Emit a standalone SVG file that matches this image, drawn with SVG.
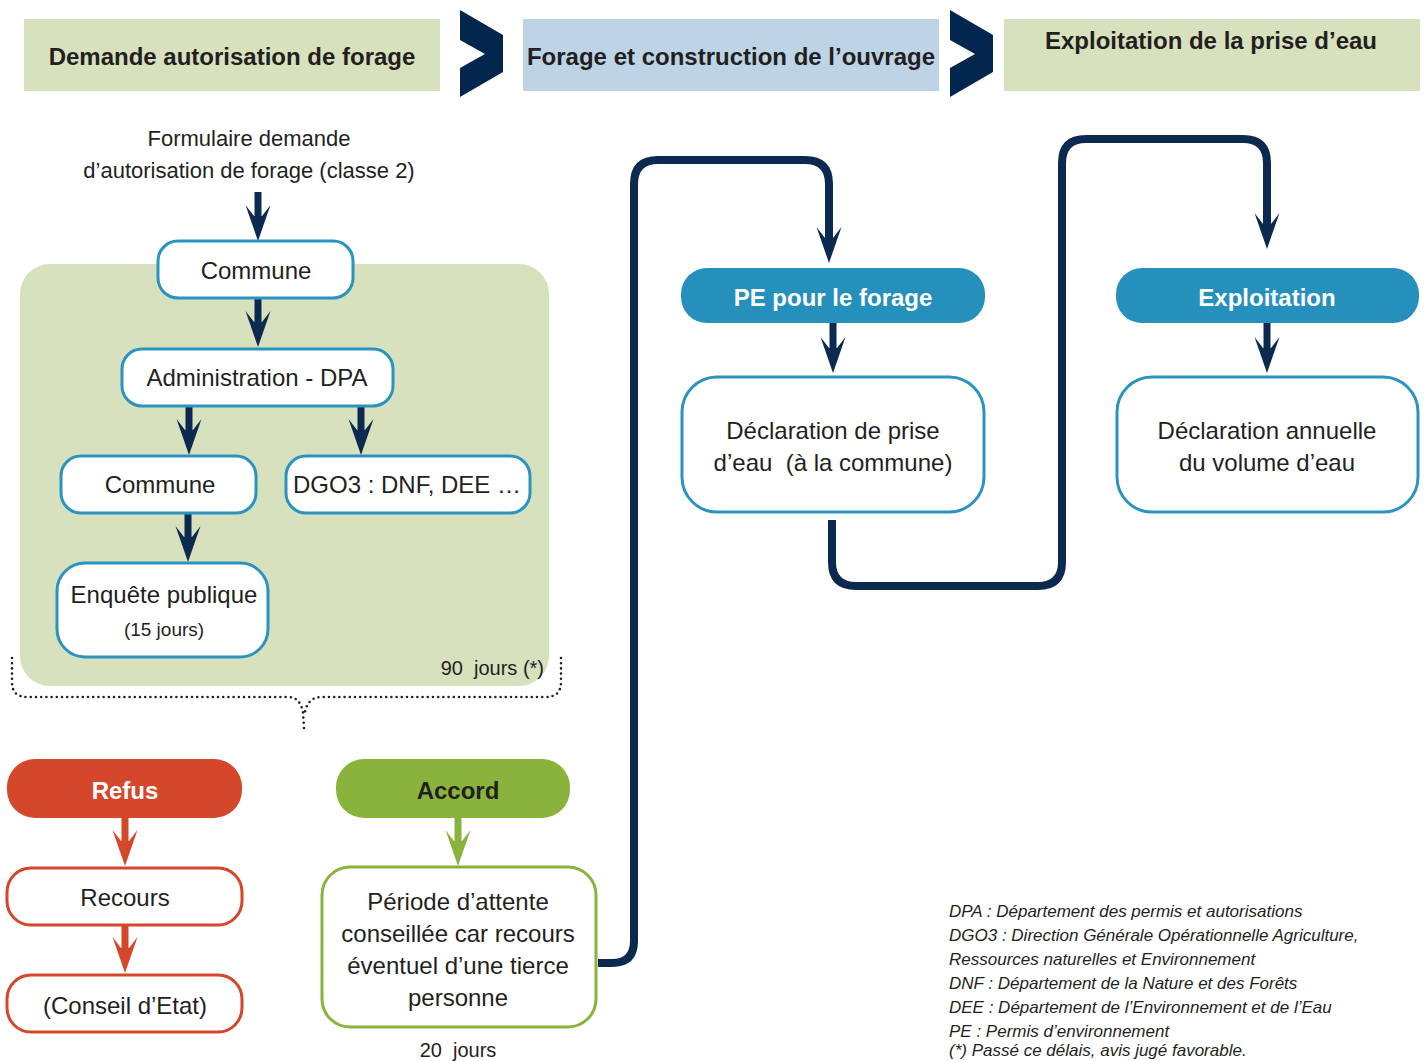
<svg xmlns="http://www.w3.org/2000/svg" width="1424" height="1061" viewBox="0 0 1424 1061">
<style>
text{font-family:"Liberation Sans",Arial,sans-serif;fill:#231f20;white-space:pre}
.hd{font-size:24px;font-weight:bold;text-anchor:middle}
.t{font-size:24px;text-anchor:middle}
.tb{font-size:24px;font-weight:bold;text-anchor:middle;fill:#fff}
.s{font-size:20px;text-anchor:middle}
.se{font-size:20px;text-anchor:end}
.lg{font-size:17px;font-style:italic}
.bx{fill:#fff;stroke:#2a93c0;stroke-width:3}
.rb{fill:#fff;stroke:#d4472a;stroke-width:3}
.gb{fill:#fff;stroke:#8ab33c;stroke-width:3}
.nv{fill:none;stroke:#0c2a4f;stroke-width:7}
.nvw{fill:none;stroke:#0c2a4f;stroke-width:8}
.rd{fill:none;stroke:#d4472a;stroke-width:7}
.gr{fill:none;stroke:#8ab33c;stroke-width:7}
</style>
<defs>
<marker id="an" markerUnits="userSpaceOnUse" markerWidth="40" markerHeight="30" refX="11" refY="0" orient="auto" overflow="visible"><path d="M36,0 L0,-12.5 L11,-4 L11,4 L0,12.5 Z" fill="#0c2a4f"/></marker>
<marker id="ar" markerUnits="userSpaceOnUse" markerWidth="40" markerHeight="30" refX="11" refY="0" orient="auto" overflow="visible"><path d="M36,0 L0,-12.5 L11,-4 L11,4 L0,12.5 Z" fill="#d4472a"/></marker>
<marker id="ag" markerUnits="userSpaceOnUse" markerWidth="40" markerHeight="30" refX="11" refY="0" orient="auto" overflow="visible"><path d="M36,0 L0,-12.5 L11,-4 L11,4 L0,12.5 Z" fill="#8ab33c"/></marker>
</defs>

<g id="header">
<rect x="24" y="19" width="416" height="72" fill="#d8e1bd"/>
<text class="hd" x="232" y="65">Demande autorisation de forage</text>
<polygon points="460,10 503,35 503,72 460,97 460,68 485,54 460,40" fill="#03264f"/>
<rect x="523" y="19" width="416" height="72" fill="#bdd4e7"/>
<text class="hd" x="731" y="65">Forage et construction de l’ouvrage</text>
<polygon points="950,10 993,35 993,72 950,97 950,68 975,54 950,40" fill="#03264f"/>
<rect x="1004" y="19" width="416" height="72" fill="#d8e1bd"/>
<text class="hd" x="1211" y="49">Exploitation de la prise d’eau</text>
</g>

<g id="panel">
<rect x="20" y="264" width="529" height="422" rx="30" fill="#d8e1bd"/>
<text class="se" x="544" y="675">90  jours (*)</text>
<path d="M12,658 L12,682 Q12,697 27,697 L288,697 Q300,697 303,712 L304,728 M561,658 L561,682 Q561,697 546,697 L322,697 Q308,697 305,712" fill="none" stroke="#231f20" stroke-width="2.6" stroke-linecap="round" stroke-dasharray="0 5.2"/>
</g>

<g id="formulaire">
<text class="s" x="249" y="146" style="font-size:22px">Formulaire demande</text>
<text class="s" x="249" y="178" style="font-size:22px">d’autorisation de forage (classe 2)</text>
</g>

<g id="connectors">
<line class="nv" x1="258" y1="192" x2="258" y2="216" marker-end="url(#an)"/>
<line class="nv" x1="258" y1="298" x2="258" y2="322" marker-end="url(#an)"/>
<line class="nv" x1="189" y1="406" x2="189" y2="430" marker-end="url(#an)"/>
<line class="nv" x1="361" y1="406" x2="361" y2="430" marker-end="url(#an)"/>
<line class="nv" x1="188" y1="513" x2="188" y2="537" marker-end="url(#an)"/>
<line class="rd" x1="125" y1="818" x2="125" y2="841" marker-end="url(#ar)"/>
<line class="rd" x1="125" y1="925" x2="125" y2="948" marker-end="url(#ar)"/>
<line class="gr" x1="458" y1="818" x2="458" y2="841" marker-end="url(#ag)"/>
<path class="nvw" d="M598,963 L612,963 Q634,963 634,941 L634,184 Q634,160 658,160 L805,160 Q829,160 829,184 L829,238" marker-end="url(#an)"/>
<line class="nv" x1="833" y1="323" x2="833" y2="348" marker-end="url(#an)"/>
<path class="nvw" d="M832,520 L832,562 Q832,586 856,586 L1038,586 Q1062,586 1062,562 L1062,163 Q1062,139 1086,139 L1243,139 Q1267,139 1267,163 L1267,224" marker-end="url(#an)"/>
<line class="nv" x1="1267" y1="323" x2="1267" y2="348" marker-end="url(#an)"/>
</g>

<g id="commune1"><rect class="bx" x="158" y="241" width="195" height="57" rx="20"/><text class="t" x="256" y="279">Commune</text></g>
<g id="admin"><rect class="bx" x="122" y="349" width="271" height="57" rx="20"/><text class="t" x="257" y="386">Administration - DPA</text></g>
<g id="commune2"><rect class="bx" x="61" y="456" width="195" height="57" rx="20"/><text class="t" x="160" y="493">Commune</text></g>
<g id="dgo3"><rect class="bx" x="286" y="456" width="244" height="57" rx="20"/><text class="t" x="407" y="493">DGO3 : DNF, DEE …</text></g>
<g id="enquete"><rect class="bx" x="57" y="563" width="211" height="94" rx="28"/><text class="t" x="164" y="603">Enquête publique</text><text class="t" x="164" y="636" style="font-size:19px">(15 jours)</text></g>

<g id="refus"><rect x="7" y="759" width="235" height="59" rx="28" fill="#d4472a"/><text class="tb" x="125" y="799">Refus</text></g>
<g id="recours"><rect class="rb" x="7" y="868" width="235" height="57" rx="24"/><text class="t" x="125" y="906">Recours</text></g>
<g id="conseil"><rect class="rb" x="7" y="975" width="235" height="57" rx="24"/><text class="t" x="125" y="1014">(Conseil d’Etat)</text></g>

<g id="accord"><rect x="336" y="759" width="234" height="59" rx="28" fill="#8ab33c"/><text class="tb" x="458" y="799" style="fill:#231f20">Accord</text></g>
<g id="periode"><rect class="gb" x="322" y="867" width="274" height="160" rx="28"/>
<text class="t" x="458" y="910">Période d’attente</text>
<text class="t" x="458" y="942">conseillée car recours</text>
<text class="t" x="458" y="974">éventuel d’une tierce</text>
<text class="t" x="458" y="1006">personne</text>
<text class="s" x="458" y="1057">20  jours</text></g>

<g id="pe"><rect x="681" y="268" width="304" height="55" rx="26" fill="#2590bb"/><text class="tb" x="833" y="306">PE pour le forage</text></g>
<g id="declaration"><rect class="bx" x="682" y="377" width="302" height="135" rx="35"/><text class="t" x="833" y="439">Déclaration de prise</text><text class="t" x="833" y="471">d’eau  (à la commune)</text></g>
<g id="exploitation"><rect x="1116" y="268" width="303" height="55" rx="26" fill="#2590bb"/><text class="tb" x="1267" y="306">Exploitation</text></g>
<g id="annuelle"><rect class="bx" x="1117" y="377" width="301" height="135" rx="35"/><text class="t" x="1267" y="439">Déclaration annuelle</text><text class="t" x="1267" y="471">du volume d’eau</text></g>

<g id="legend">
<text class="lg" x="949" y="917">DPA : Département des permis et autorisations</text>
<text class="lg" x="949" y="941">DGO3 : Direction Générale Opérationnelle Agriculture,</text>
<text class="lg" x="949" y="965">Ressources naturelles et Environnement</text>
<text class="lg" x="949" y="989">DNF : Département de la Nature et des Forêts</text>
<text class="lg" x="949" y="1013">DEE : Département de l’Environnement et de l’Eau</text>
<text class="lg" x="949" y="1037">PE : Permis d’environnement</text>
<text class="lg" x="949" y="1056">(*) Passé ce délais, avis jugé favorable.</text>
</g>
</svg>
